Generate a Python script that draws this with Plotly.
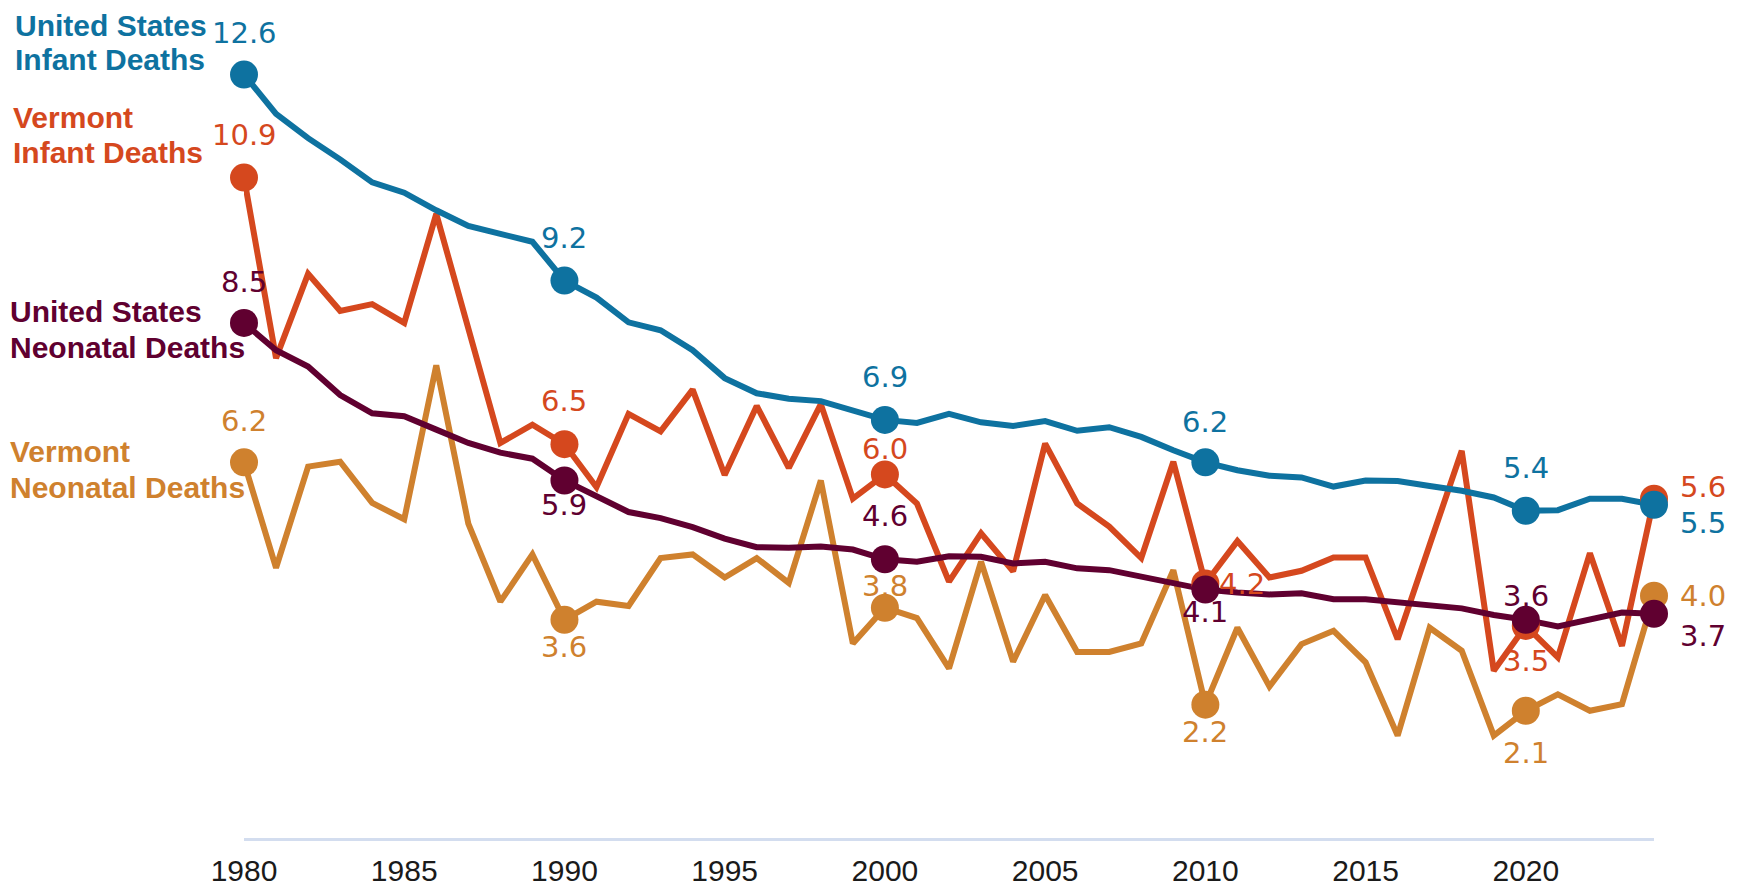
import plotly.graph_objects as go

years = list(range(1980, 2025))

us_infant = [12.6, 11.95, 11.55, 11.2, 10.82, 10.65, 10.36, 10.1, 9.97, 9.84,
             9.2, 8.92, 8.51, 8.38, 8.05, 7.59, 7.34, 7.25, 7.21, 7.06,
             6.9, 6.85, 7.0, 6.86, 6.8, 6.88, 6.72, 6.78, 6.62, 6.4,
             6.2, 6.07, 5.98, 5.95, 5.8, 5.9, 5.89, 5.81, 5.73, 5.62,
             5.4, 5.41, 5.6, 5.6, 5.5]

vt_infant = [10.9, 7.92, 9.31, 8.7, 8.81, 8.5, 10.3, 8.4, 6.52, 6.82,
             6.5, 5.79, 7.0, 6.71, 7.4, 5.99, 7.13, 6.11, 7.16, 5.6,
             6.0, 5.52, 4.23, 5.03, 4.4, 6.51, 5.52, 5.14, 4.62, 6.21,
             4.2, 4.9, 4.3, 4.41, 4.63, 4.63, 3.28, 4.84, 6.39, 2.76,
             3.5, 2.98, 4.7, 3.17, 5.6]

us_neonatal = [8.5, 8.05, 7.78, 7.31, 7.01, 6.96, 6.74, 6.52, 6.36, 6.26,
               5.9, 5.63, 5.38, 5.28, 5.13, 4.94, 4.8, 4.79, 4.81, 4.76,
               4.6, 4.56, 4.65, 4.64, 4.53, 4.56, 4.45, 4.42, 4.32, 4.2,
               4.1, 4.05, 4.02, 4.04, 3.94, 3.94, 3.89, 3.86, 3.79, 3.68,
               3.6, 3.49, 3.61, 3.72, 3.7]

vt_neonatal = [6.2, 4.46, 6.13, 6.21, 5.53, 5.26, 7.8, 5.19, 3.9, 4.68,
               3.6, 3.9, 3.83, 4.62, 4.68, 4.3, 4.62, 4.21, 5.9, 3.21,
               3.8, 3.63, 2.8, 4.56, 2.91, 4.01, 3.07, 3.07, 3.21, 4.42,
               2.2, 3.47, 2.5, 3.2, 3.42, 2.9, 1.69, 3.47, 3.09, 1.69,
               2.1, 2.37, 2.1, 2.21, 4.0]

labeled_years = [1980, 1990, 2000, 2010, 2020, 2024]
tick_years = [1980, 1985, 1990, 1995, 2000, 2005, 2010, 2015, 2020]

series_names = [["Vermont", "Neonatal Deaths"], ["Vermont", "Infant Deaths"],
                ["United States", "Neonatal Deaths"], ["United States", "Infant Deaths"]]

# ---- styling ----
colors = ["#CF812E", "#D5481E", "#600030", "#0E72A0"]
series_values = [vt_neonatal, vt_infant, us_neonatal, us_infant]
# label offsets (px) for each labeled year: (dx, dy)
label_offsets = [
    [(0, 41), (0, -27), (0, 22), (0, -27), (0, -42), (49, 0)],     # VT neonatal
    [(0, 43), (0, 43), (0, 25), (37, 0), (0, -35), (49, 12)],      # VT infant
    [(0, 41), (0, -24), (0, 43), (0, -22), (0, 24), (49, -22)],    # US neonatal
    [(0, 42), (0, 43), (0, 43), (0, 40), (0, 43), (49, -18)],      # US infant
]
# name label positions: (paper x, data y line 1, data y line 2)
name_pos = [(-0.1674, 6.38, 5.79), (-0.1652, 11.89, 11.32),
            (-0.1674, 8.69, 8.10), (-0.1638, 13.41, 12.85)]

fig = go.Figure()

for vals, col in zip(series_values, colors):
    fig.add_trace(go.Scatter(x=years, y=vals, mode="lines",
                             line=dict(color=col, width=6),
                             cliponaxis=False, hoverinfo="skip", showlegend=False))

annotations = []
for vals, col, offs, name, (nx, ny1, ny2) in zip(series_values, colors, label_offsets,
                                                 series_names, name_pos):
    ly = [vals[years.index(y)] for y in labeled_years]
    fig.add_trace(go.Scatter(x=labeled_years, y=ly, mode="markers",
                             marker=dict(color=col, size=28),
                             cliponaxis=False, hoverinfo="skip", showlegend=False))
    for yr, v, (dx, dy) in zip(labeled_years, ly, offs):
        annotations.append(dict(x=yr, y=v, xref="x", yref="y", text=f"{v:.1f}",
                                showarrow=False, xanchor="center", yanchor="middle",
                                xshift=dx, yshift=dy,
                                font=dict(family="DejaVu Sans", size=29, color=col)))
    for line_text, ny in zip(name, (ny1, ny2)):
        annotations.append(dict(x=nx, y=ny, xref="paper", yref="y", text=f"<b>{line_text}</b>",
                                showarrow=False, xanchor="left", yanchor="middle", align="left",
                                font=dict(family="Liberation Sans, Arial", size=30, color=col)))

fig.update_layout(
    width=1737, height=890,
    margin=dict(l=236, r=91, t=12, b=60, autoexpand=False),
    paper_bgcolor="white", plot_bgcolor="white",
    annotations=annotations,
    xaxis=dict(range=[1980, 2024], tickvals=tick_years, ticktext=[str(t) for t in tick_years],
               showgrid=False, zeroline=False, showline=True, linecolor="#D3DDEF", linewidth=3,
               ticks="", ticklabelstandoff=4, automargin=False,
               tickfont=dict(family="Liberation Sans, Arial", size=30, color="#1a1a1a")),
    yaxis=dict(range=[0, 13.5], visible=False, showgrid=False, zeroline=False, automargin=False),
)

fig.write_html("out.html")
